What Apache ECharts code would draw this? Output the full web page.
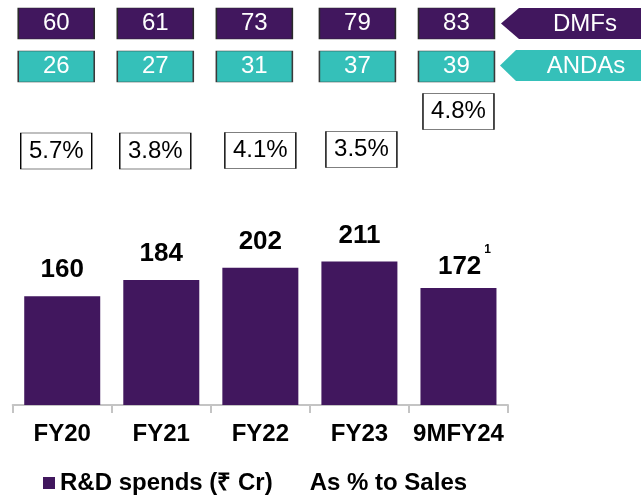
<!DOCTYPE html>
<html>
<head>
<meta charset="utf-8">
<script src="https://cdn.jsdelivr.net/npm/echarts@6/dist/echarts.min.js"></script>
<style>html,body{margin:0;padding:0;background:#fff}#c{width:641px;height:496px}</style>
</head>
<body>
<div id="c"></div>
<script>
const categories = ['FY20', 'FY21', 'FY22', 'FY23', '9MFY24'];
const rdSpends = [160, 184, 202, 211, 172];
const dmfs = [60, 61, 73, 79, 83];
const andas = [26, 27, 31, 37, 39];
const pctSales = [5.7, 3.8, 4.1, 3.5, 4.8];

const FONT = '"Liberation Sans", Arial, sans-serif';
const PURPLE = '#41175e';
const TEAL = '#35c0b9';

const chart = echarts.init(document.getElementById('c'), null, {renderer: 'canvas'});

const gridL = 12.7, gridR = 133;
function hiddenX(gi) {
  return {type: 'category', data: categories, gridIndex: gi, show: false, boundaryGap: true};
}
function hiddenY(gi) {
  return {type: 'value', gridIndex: gi, min: -1, max: 1, show: false};
}

function boxSeries(values, gi, opts) {
  return {
    type: 'scatter',
    name: opts.name,
    xAxisIndex: gi, yAxisIndex: gi,
    symbol: 'rect',
    symbolSize: opts.size,
    silent: true,
    itemStyle: {color: opts.fill, borderColor: opts.border, borderWidth: 1, opacity: 1},
    label: {
      show: true, position: 'inside',
      formatter: p => p.data.txt,
      color: opts.textColor, fontSize: 24, fontFamily: FONT
    },
    data: values.map((v, i) => ({
      value: [categories[i], 0],
      txt: opts.fmt(v),
      symbolOffset: opts.offsets[i]
    }))
  };
}

const rowOffsets = [[-6, 0], [-6, 0], [-6, 0], [-2, 0], [-2, 0]];
const pctOffsets = [[-6, 0], [-6, 0], [0, -0.5], [2, -1.5], [0, -39.5]];

const option = {
  animation: false,
  grid: [
    {left: gridL, right: gridR, top: 201, bottom: 91},
    {left: gridL, right: gridR, top: 8, height: 31},
    {left: gridL, right: gridR, top: 51, height: 31},
    {left: gridL, right: gridR, top: 133, height: 36}
  ],
  xAxis: [
    {
      type: 'category', data: categories, gridIndex: 0,
      axisLine: {show: true, lineStyle: {color: '#c4c4c4', width: 2}},
      axisTick: {show: true, length: 8, lineStyle: {color: '#c4c4c4', width: 2}},
      axisLabel: {color: '#000', fontSize: 24, fontWeight: 'bold', fontFamily: FONT, margin: 17, interval: 0}
    },
    hiddenX(1), hiddenX(2), hiddenX(3)
  ],
  yAxis: [
    {type: 'value', gridIndex: 0, min: 0, max: 300, show: false, splitLine: {show: false}},
    hiddenY(1), hiddenY(2), hiddenY(3)
  ],
  legend: {
    left: 43, top: 471, padding: 0, itemGap: 19,
    itemWidth: 12, itemHeight: 12,
    selectedMode: false,
    textStyle: {color: '#000', fontSize: 24, fontWeight: 'bold', fontFamily: FONT},
    data: [
      {name: 'R&D spends (₹ Cr)', icon: 'rect'},
      {name: 'As % to Sales', icon: 'rect', itemStyle: {opacity: 0}}
    ]
  },
  graphic: [
    {type: 'polygon', shape: {points: [[501, 23.5], [519, 8], [641, 8], [641, 39], [519, 39]]}, style: {fill: PURPLE}, silent: true},
    {type: 'text', x: 585, y: 24, style: {text: 'DMFs', fill: '#fff', font: '24px ' + FONT, align: 'center', verticalAlign: 'middle'}, silent: true},
    {type: 'polygon', shape: {points: [[500, 65.5], [516, 50], [641, 50], [641, 81], [516, 81]]}, style: {fill: TEAL}, silent: true},
    {type: 'text', x: 586, y: 66, style: {text: 'ANDAs', fill: '#fff', font: '24px ' + FONT, align: 'center', verticalAlign: 'middle'}, silent: true}
  ],
  series: [
    {
      type: 'bar', name: 'R&D spends (₹ Cr)',
      xAxisIndex: 0, yAxisIndex: 0,
      barWidth: 76,
      silent: true,
      itemStyle: {color: PURPLE},
      label: {
        show: true, position: 'top', distance: 13,
        color: '#000', fontSize: 26, fontWeight: 'bold', fontFamily: FONT, lineHeight: 26
      },
      data: rdSpends.map((v, i) => {
        if (i === rdSpends.length - 1) {
          return {
            value: v,
            label: {
              offset: [6, 0],
              formatter: '{v|{c}}{s|1}',
              rich: {
                v: {fontSize: 26, fontWeight: 'bold', fontFamily: FONT, color: '#000', lineHeight: 26, padding: [10, 0, 0, 0]},
                s: {fontSize: 12, fontWeight: 'bold', fontFamily: FONT, color: '#000', lineHeight: 12, padding: [0, 0, 24, 3]}
              }
            }
          };
        }
        return v;
      })
    },
    boxSeries(dmfs, 1, {name: 'DMFs', size: [76, 31], fill: PURPLE, border: '#2a2a2a', textColor: '#fff', fmt: v => String(v), offsets: rowOffsets}),
    boxSeries(andas, 2, {name: 'ANDAs', size: [76, 31], fill: TEAL, border: '#3a3a3a', textColor: '#fff', fmt: v => String(v), offsets: rowOffsets}),
    boxSeries(pctSales, 3, {name: 'As % to Sales', size: [71, 36], fill: '#fff', border: '#000', textColor: '#000', fmt: v => v.toFixed(1) + '%', offsets: pctOffsets})
  ]
};
chart.setOption(option);
</script>
</body>
</html>
